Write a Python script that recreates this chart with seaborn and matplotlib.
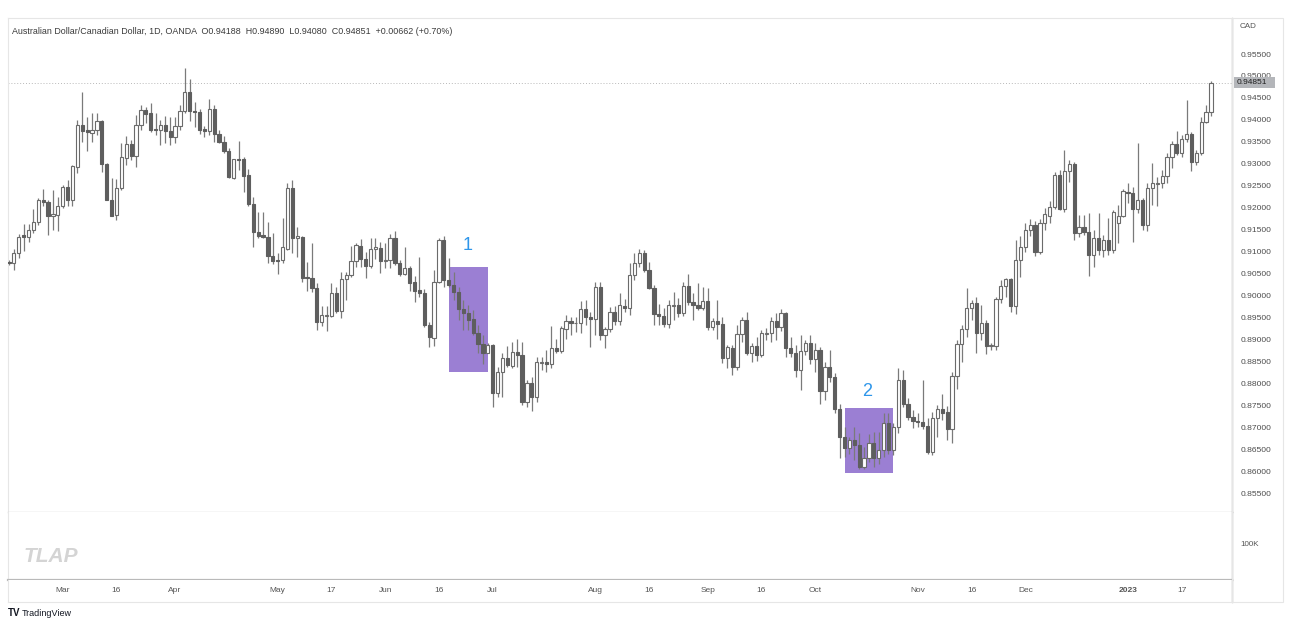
import numpy as np
import pandas as pd
import matplotlib
matplotlib.use('Agg')
import matplotlib.pyplot as plt
import matplotlib.transforms as mtransforms
from matplotlib.patches import Rectangle
from matplotlib.ticker import FormatStrFormatter
import seaborn as sns

# daily AUD/CAD candles, Feb 14 2022 .. Jan 25 2023
opens = [
    .9077, .9073, .9096, .9137, .9134, .9150, .9168, .9218, .9212, .9181,
    .9184, .9204, .9246, .9218, .9292, .9388, .9377, .9371, .9377, .9397,
    .9299, .9218, .9183, .9244, .9314, .9345, .9318, .9388, .9422, .9415,
    .9380, .9377, .9388, .9375, .9360, .9386, .9421, .9463, .9421, .9419,
    .9380, .9374, .9424, .9368, .9349, .9330, .9267, .9311, .9310, .9274,
    .9208, .9145, .9137, .9134, .9091, .9082, .9081, .9107, .9244, .9130,
    .9134, .9043, .9041, .9018, .8940, .8953, .8953, .9005, .8965, .9037,
    .9046, .9078, .9113, .9084, .9067, .9107, .9109, .9079, .9081, .9132,
    .9075, .9049, .9062, .9030, .9012, .9006, .8932, .8904, .9031, .9126,
    .9035, .9024, .9007, .8969, .8960, .8946, .8915, .8889, .8869, .8887,
    .8779, .8826, .8857, .8840, .8872, .8864, .8758, .8800, .8769, .8847,
    .8848, .8845, .8880, .8873, .8923, .8943, .8937, .8937, .8969, .8952,
    .8946, .9019, .8910, .8923, .8963, .8943, .8977, .8971, .9047, .9073,
    .9097, .9059, .9018, .8958, .8953, .8934, .8976, .8978, .8960, .9022,
    .8986, .8978, .8972, .8987, .8929, .8943, .8935, .8857, .8880, .8837,
    .8913, .8944, .8868, .8885, .8864, .8912, .8914, .8943, .8929, .8960,
    .8880, .8868, .8830, .8873, .8893, .8855, .8877, .8783, .8838, .8814,
    .8741, .8678, .8652, .8672, .8659, .8610, .8629, .8665, .8629, .8648,
    .8709, .8648, .8700, .8807, .8754, .8724, .8715, .8713, .8703, .8644,
    .8722, .8741, .8734, .8697, .8816, .8889, .8923, .8971, .8984, .8915,
    .8937, .8885, .8886, .8991, .9022, .9037, .8976, .9082, .9111, .9150,
    .9160, .9100, .9165, .9180, .9202, .9274, .9198, .9284, .9299, .9143,
    .9157, .9145, .9092, .9130, .9103, .9126, .9103, .9166, .9181, .9235,
    .9234, .9196, .9218, .9161, .9244, .9253, .9256, .9272, .9315, .9345,
    .9325, .9356, .9367, .9305, .9325, .9396, .94188,
]
highs = [
    .9082, .9107, .9140, .9163, .9164, .9196, .9222, .9243, .9218, .9240,
    .9224, .9252, .9263, .9297, .9400, .9463, .9406, .9415, .9416, .9400,
    .9301, .9267, .9265, .9347, .9363, .9354, .9411, .9434, .9430, .9439,
    .9415, .9400, .9409, .9406, .9407, .9434, .9517, .9492, .9441, .9424,
    .9386, .9447, .9434, .9377, .9363, .9335, .9312, .9352, .9316, .9289,
    .9225, .9191, .9191, .9167, .9143, .9096, .9176, .9257, .9263, .9157,
    .9135, .9077, .9119, .9028, .8976, .8975, .9028, .9019, .9054, .9054,
    .9113, .9119, .9128, .9099, .9130, .9130, .9123, .9119, .9141, .9147,
    .9081, .9111, .9067, .9044, .9088, .9014, .8940, .9058, .9132, .9135,
    .9086, .9054, .9020, .8990, .8978, .8967, .8933, .8910, .8891, .8889,
    .8838, .8868, .8885, .8894, .8902, .8894, .8807, .8815, .8861, .8861,
    .8876, .8930, .8902, .8930, .8955, .8951, .8951, .8987, .8990, .8963,
    .9031, .9031, .8929, .8973, .8976, .9005, .8991, .9073, .9096, .9107,
    .9103, .9077, .9024, .8981, .8971, .8990, .9009, .8994, .9031, .9050,
    .9005, .9028, .9020, .9017, .8948, .8990, .8952, .8887, .8887, .8933,
    .8951, .8963, .8891, .8906, .8921, .8925, .8952, .8961, .8969, .8963,
    .8906, .8887, .8910, .8898, .8910, .8891, .8883, .8849, .8876, .8823,
    .8754, .8701, .8678, .8701, .8686, .8656, .8684, .8690, .8690, .8732,
    .8732, .8709, .8834, .8830, .8766, .8739, .8732, .8807, .8720, .8735,
    .8750, .8775, .8748, .8826, .8898, .8933, .9016, .8990, .8996, .8978,
    .8944, .8891, .8997, .9036, .9041, .9041, .9126, .9135, .9165, .9175,
    .9170, .9175, .9200, .9215, .9282, .9286, .9331, .9309, .9305, .9183,
    .9183, .9187, .9149, .9187, .9138, .9176, .9195, .9206, .9242, .9256,
    .9248, .9347, .9222, .9256, .9302, .9270, .9286, .9325, .9352, .9375,
    .9366, .9445, .9373, .9331, .9407, .9434, .94890,
]
lows = [
    .9070, .9057, .9085, .9102, .9122, .9143, .9161, .9203, .9138, .9150,
    .9148, .9199, .9204, .9204, .9278, .9350, .9330, .9350, .9366, .9282,
    .9217, .9180, .9172, .9240, .9297, .9309, .9293, .9377, .9392, .9373,
    .9366, .9343, .9347, .9343, .9348, .9377, .9415, .9398, .9384, .9368,
    .9362, .9366, .9350, .9347, .9324, .9267, .9265, .9286, .9236, .9203,
    .9110, .9130, .9130, .9073, .9072, .9050, .9075, .9103, .9096, .9088,
    .9031, .9011, .9009, .8921, .8930, .8920, .8952, .8960, .8948, .8990,
    .9043, .9066, .9066, .9041, .9062, .9084, .9052, .9062, .9062, .9069,
    .9044, .9047, .9011, .8986, .8997, .8929, .8883, .8885, .9028, .9019,
    .9019, .8990, .8944, .8921, .8921, .8910, .8868, .8845, .8868, .8747,
    .8769, .8769, .8838, .8834, .8838, .8750, .8747, .8737, .8758, .8830,
    .8826, .8834, .8868, .8868, .8902, .8910, .8917, .8914, .8933, .8883,
    .8910, .8898, .8880, .8917, .8933, .8933, .8963, .8955, .9035, .9066,
    .9054, .9014, .8933, .8933, .8929, .8925, .8944, .8950, .8953, .8978,
    .8944, .8967, .8967, .8921, .8921, .8902, .8847, .8834, .8819, .8830,
    .8895, .8864, .8849, .8851, .8859, .8899, .8895, .8899, .8920, .8861,
    .8861, .8815, .8785, .8864, .8845, .8826, .8754, .8762, .8804, .8732,
    .8629, .8633, .8640, .8625, .8606, .8606, .8622, .8610, .8617, .8633,
    .8640, .8637, .8686, .8747, .8716, .8698, .8700, .8697, .8639, .8637,
    .8678, .8716, .8671, .8663, .8788, .8849, .8906, .8944, .8868, .8899,
    .8867, .8877, .8876, .8982, .8997, .8963, .8959, .9043, .9100, .9135,
    .9090, .9095, .9150, .9165, .9198, .9195, .9191, .9259, .9126, .9134,
    .9138, .9044, .9065, .9092, .9088, .9092, .9096, .9119, .9178, .9210,
    .9122, .9187, .9149, .9148, .9206, .9204, .9244, .9256, .9290, .9320,
    .9316, .9350, .9284, .9297, .9320, .9392, .94080,
]
closes = [
    .9075, .9096, .9134, .9133, .9150, .9168, .9218, .9212, .9181, .9186,
    .9204, .9247, .9218, .9294, .9388, .9375, .9372, .9378, .9397, .9299,
    .9218, .9182, .9244, .9315, .9345, .9318, .9388, .9422, .9413, .9377,
    .9377, .9388, .9375, .9360, .9386, .9421, .9463, .9421, .9417, .9378,
    .9374, .9424, .9368, .9349, .9328, .9269, .9311, .9309, .9273, .9208,
    .9145, .9135, .9134, .9090, .9079, .9079, .9110, .9244, .9130, .9135,
    .9041, .9040, .9016, .8940, .8955, .8956, .9005, .8965, .9037, .9047,
    .9078, .9115, .9084, .9067, .9107, .9110, .9079, .9082, .9132, .9075,
    .9049, .9062, .9029, .9011, .9006, .8932, .8905, .9031, .9126, .9035,
    .9024, .9007, .8969, .8960, .8944, .8914, .8889, .8869, .8887, .8779,
    .8826, .8857, .8842, .8872, .8864, .8758, .8800, .8769, .8849, .8849,
    .8845, .8880, .8873, .8925, .8943, .8938, .8938, .8969, .8952, .8946,
    .9019, .8910, .8923, .8963, .8943, .8978, .8971, .9047, .9073, .9097,
    .9059, .9018, .8958, .8953, .8934, .8978, .8978, .8960, .9022, .8986,
    .8978, .8972, .8987, .8929, .8943, .8935, .8857, .8882, .8837, .8913,
    .8944, .8868, .8885, .8864, .8914, .8915, .8943, .8929, .8960, .8880,
    .8868, .8830, .8874, .8893, .8855, .8877, .8783, .8838, .8814, .8741,
    .8678, .8652, .8672, .8659, .8610, .8629, .8665, .8629, .8648, .8709,
    .8648, .8700, .8807, .8754, .8724, .8715, .8713, .8703, .8644, .8722,
    .8741, .8733, .8697, .8816, .8889, .8923, .8971, .8984, .8915, .8937,
    .8885, .8888, .8991, .9022, .9037, .8976, .9082, .9111, .9150, .9160,
    .9100, .9165, .9185, .9202, .9274, .9198, .9284, .9299, .9143, .9157,
    .9145, .9092, .9130, .9103, .9126, .9103, .9191, .9181, .9237, .9233,
    .9198, .9218, .9161, .9244, .9256, .9256, .9272, .9315, .9345, .9325,
    .9356, .9367, .9305, .9325, .9396, .9419, .94851,
]

tick_dates = ['2022-03-01', '2022-03-16', '2022-04-01', '2022-05-02', '2022-05-17',
              '2022-06-01', '2022-06-16', '2022-07-01', '2022-08-01', '2022-08-16',
              '2022-09-01', '2022-09-16', '2022-10-03', '2022-11-01', '2022-11-16',
              '2022-12-01', '2023-01-02', '2023-01-17']
tick_labels = ['Mar', '16', 'Apr', 'May', '17', 'Jun', '16', 'Jul', 'Aug', '16',
               'Sep', '16', 'Oct', 'Nov', '16', 'Dec', '2023', '17']

last_price = 0.94851
header = ('Australian Dollar/Canadian Dollar, 1D, OANDA  O0.94188  H0.94890  '
          'L0.94080  C0.94851  +0.00662 (+0.70%)')

# trading days shown on the chart (Dec 26 has no bar)
dates = pd.bdate_range('2022-02-14', '2023-01-25')
dates = dates[dates != pd.Timestamp('2022-12-26')]

sns.set_theme(style='white')
plt.rcParams['font.family'] = ['Liberation Sans', 'DejaVu Sans']

W, H = 1290, 626
fig = plt.figure(figsize=(W / 100, H / 100), dpi=100)
fig.patch.set_facecolor('white')


def px_box(x0, y0, x1, y1):
    return [x0 / W, 1 - y1 / H, (x1 - x0) / W, (y1 - y0) / H]


ax = fig.add_axes(px_box(8, 18, 1232, 512))
vol = fig.add_axes(px_box(8, 512, 1232, 580))
tax = fig.add_axes(px_box(8, 580, 1232, 602))

o = np.array(opens)
h = np.array(highs)
l = np.array(lows)
c = np.array(closes)
x = np.arange(len(o))
up = c >= o
bottom = np.minimum(o, c)
height = np.maximum(np.abs(c - o), 0.00006)

# boxes behind the candles
ax.add_patch(Rectangle((90.0, 0.8826), 8.0, 0.9064 - 0.8826,
                       facecolor='#9b7fd3', edgecolor='none', zorder=1))
ax.add_patch(Rectangle((171.0, 0.8596), 10.0, 0.8743 - 0.8596,
                       facecolor='#9b7fd3', edgecolor='none', zorder=1))

ax.axhline(last_price, color='#b9b9b9', ls=(0, (1, 2)), lw=0.7, zorder=1)

ax.vlines(x, l, h, color='#7a7a7a', lw=0.9, zorder=2)
ax.bar(x[up], height[up], bottom=bottom[up], width=0.66, color='white',
       edgecolor='#6b6b6b', linewidth=0.8, zorder=3)
ax.bar(x[~up], height[~up], bottom=bottom[~up], width=0.66, color='#5e5e5e',
       edgecolor='#5e5e5e', linewidth=0.8, zorder=3)

ax.text(93.9, 0.9113, '1', color='#2e96ea', fontsize=13, ha='center', va='center')
ax.text(175.7, 0.8781, '2', color='#2e96ea', fontsize=13, ha='center', va='center')

xlim = (-0.2, 250.3)
for a in (ax, vol, tax):
    a.set_xlim(*xlim)
    a.set_xticks([])
    a.set_facecolor('white')
    for side in ('left', 'top', 'bottom'):
        a.spines[side].set_color('#e6e6e6')
        a.spines[side].set_linewidth(0.8)
    a.spines['right'].set_color('#8c8c8c')
    a.spines['right'].set_linewidth(0.9)

# pane separator under the price pane
ax.spines['bottom'].set_color('#d6d6d6')
ax.spines['bottom'].set_linewidth(1.0)

ax.set_ylim(0.8507, 0.9632)
ax.yaxis.tick_right()
ax.set_yticks(np.arange(0.855, 0.9551, 0.005))
ax.yaxis.set_major_formatter(FormatStrFormatter('%.5f'))
ax.tick_params(axis='y', length=0, pad=6, labelsize=6.1, labelcolor='#4d4d4d')

vol.set_yticks([])
vol.spines['top'].set_visible(False)
vol.spines['bottom'].set_color('#b9b9b9')
vol.spines['bottom'].set_linewidth(1.6)
tax.set_yticks([])
tax.spines['top'].set_visible(False)

trans = mtransforms.blended_transform_factory(tax.transData, tax.transAxes)
for d, lab in zip(tick_dates, tick_labels):
    pos = dates.searchsorted(pd.Timestamp(d))
    tax.text(pos, 0.5, lab, transform=trans, ha='center', va='center',
             fontsize=6, color='#555555',
             fontweight='bold' if lab == '2023' else 'normal')

# frame round the price scale column
fig.add_artist(Rectangle((1232 / W, 1 - 602 / H), 51 / W, 584 / H,
                         transform=fig.transFigure, facecolor='none',
                         edgecolor='#e6e6e6', lw=0.8))

fig.text(12 / W, 1 - 31 / H, header, fontsize=6.4, color='#3a3a3a', va='center')
fig.text(1240 / W, 1 - 27 / H, 'CAD', fontsize=5.8, color='#555555', va='center')
fig.text(1240 / W, 1 - 544 / H, '100K', fontsize=5.8, color='#555555', va='center')

# last price tag
fig.add_artist(Rectangle((1234 / W, 1 - 88 / H), 41 / W, 11 / H,
                         transform=fig.transFigure, facecolor='#b4b6ba',
                         edgecolor='none', zorder=5))
fig.text(1237 / W, 1 - 82.5 / H, f'{last_price:.5f}', fontsize=6, color='#1e1e1e',
         va='center', zorder=6)

fig.text(24 / W, 1 - 556 / H, 'TLAP', fontsize=15, fontweight='bold',
         fontstyle='italic', color='#d4d4d4', va='center')
fig.text(8 / W, 1 - 613 / H, 'TV', fontsize=7, fontweight='bold',
         color='#131722', va='center')
fig.text(22 / W, 1 - 613 / H, 'TradingView', fontsize=6.5, color='#131722',
         va='center')

fig.savefig('out.png', dpi=100)
